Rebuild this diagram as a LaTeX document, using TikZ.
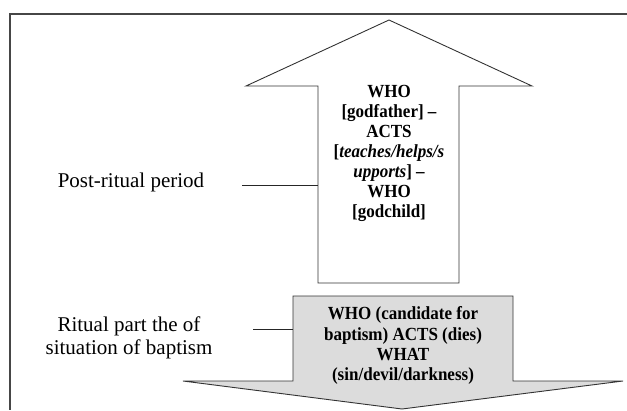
\documentclass[tikz,border=0pt]{standalone}
\usepackage{fontspec}
\setmainfont{Liberation Serif}
\newfontfamily\condfont[Ligatures=TeX,FakeStretch=0.92]{Liberation Serif}
\usepackage{xcolor}
\definecolor{frmgray}{RGB}{70,70,70}
\definecolor{boxgray}{RGB}{220,220,220}
\usetikzlibrary{positioning}

\begin{document}
\begin{tikzpicture}[x=1pt,y=-1pt,
  lbl/.style={align=center,inner sep=0pt,font=\fontsize{21}{22.5}\selectfont},
  txt/.style={align=center,inner sep=0pt,font=\condfont\fontsize{18.5}{20}\selectfont\bfseries},
  arrowline/.style={draw=black!80,line width=0.9pt,line join=miter},
  conn/.style={draw=black!85,line width=0.8pt}]
  \useasboundingbox (0,0) rectangle (627,410);
  % Frame
  \draw[frmgray,line width=1.3pt] (627,14) -- (10,14) -- (10,410);
  % Up arrow (post-ritual)
  \draw[arrowline,fill=white] (318,283) -- (318,86) -- (246,86) -- (389,20)
    -- (532,86) -- (459,86) -- (459,283) -- cycle;
  \node[txt,anchor=north] (upTxt) at (389,85.5) {WHO\\
    {[}godfather{]} --\\ ACTS\\ {[}\textit{teaches/helps/s}\\
    \textit{upports}{]} --\\ WHO\\ {[}godchild{]}};
  % Down arrow (ritual)
  \draw[arrowline,fill=boxgray] (293,296) -- (513,296) -- (513,381) -- (623,381)
    -- (402,409) -- (183,381) -- (293,381) -- cycle;
  \node[txt,anchor=north,font=\condfont\fontsize{18.5}{20.3}\selectfont\bfseries] (downTxt) at (403,306.5)
    {WHO (candidate for\\ baptism) ACTS (dies)\\ WHAT\\ (sin/devil/darkness)};
  % Labels
  \node[lbl,anchor=base] (post) at (131,187) {Post-ritual period};
  \node[lbl,anchor=north] (ritual) at (129,316.7) {Ritual part the of\\ situation of baptism};
  \coordinate (upL) at (318,185);
  \coordinate (postEnd) at (242,185);
  \coordinate (downL) at (293,329);
  \coordinate (ritualEnd) at (253,329);
  \draw[conn] (postEnd) -- (upL);
  \draw[conn] (ritualEnd) -- (downL);
\end{tikzpicture}
\end{document}
